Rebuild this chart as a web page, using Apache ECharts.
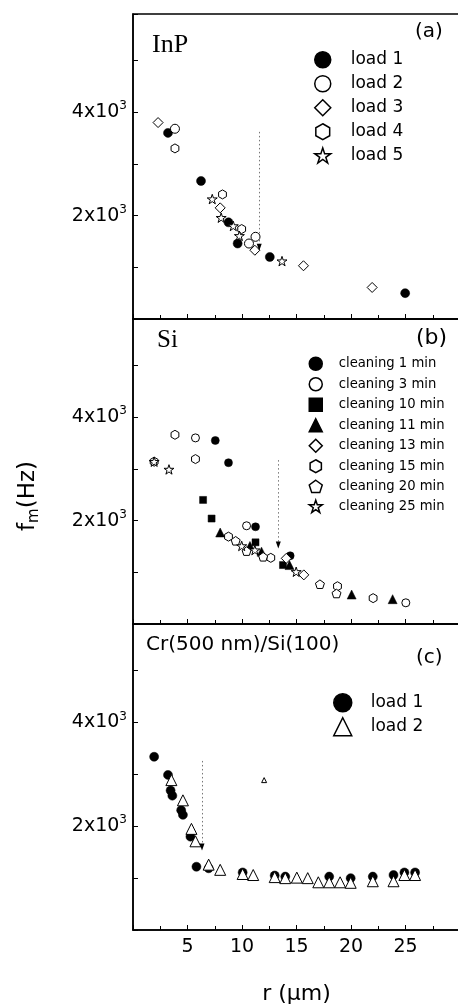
<!DOCTYPE html>
<html><head><meta charset="utf-8">
<script src="https://cdn.jsdelivr.net/npm/echarts/dist/echarts.min.js"></script>
<style>html,body{margin:0;padding:0;background:#fff}#c{width:458px;height:1007px}</style>
</head><body><div id="c"></div>
<script>
// ---------- Panel (a) InP : [r (um), f_m (Hz)] ----------
const inpLoad1 = [[3.21,3600],[6.24,2670],[8.76,1870],[9.6,1460],[12.55,1200],[24.97,500]];
const inpLoad2 = [[3.85,3680],[10.64,1460],[11.24,1590]];
const inpLoad3 = [[2.30,3800],[8.0,2150],[11.18,1330],[15.64,1030],[21.94,610]];
const inpLoad4 = [[3.85,3300],[8.21,2410],[9.97,1740]];
const inpLoad5 = [[7.27,2320],[8.09,1960],[9.2,1800],[9.76,1610],[13.67,1120]];
// ---------- Panel (b) Si ----------
const siClean1  = [[7.55,3550],[8.76,3120],[11.24,1880],[14.42,1320]];
const siClean3  = [[5.73,3600],[10.42,1900],[25.03,410]];
const siClean10 = [[6.43,2400],[7.21,2040],[11.24,1580],[13.76,1140]];
const siClean11 = [[8.0,1770],[10.73,1510],[11.79,1400],[14.36,1140],[20.06,570],[23.82,480]];
const siClean13 = [[14.06,1270],[15.67,950]];
const siClean15 = [[1.94,3140],[3.85,3660],[5.73,3190],[8.76,1690],[12.64,1280],[18.76,730],[22.03,500]];
const siClean20 = [[9.42,1610],[10.42,1410],[11.94,1300],[17.15,770],[18.67,590]];
const siClean25 = [[1.94,3140],[3.30,2990],[9.97,1510],[11.18,1430],[14.97,1010]];
// ---------- Panel (c) Cr(500 nm)/Si(100) ----------
const crLoad1 = [[1.94,3340],[3.21,2990],[3.45,2690],[3.61,2590],[4.42,2310],[4.58,2220],[5.27,1800],[5.82,1220],[6.94,1190],[10.06,1110],[13.0,1050],[13.97,1030],[18.0,1030],[19.97,1000],[22.0,1030],[23.9,1060],[24.9,1110],[25.88,1110]];
const crLoad2 = [[3.52,2890],[4.58,2500],[5.36,1950],[5.73,1710],[6.94,1260],[8.0,1160],[10.06,1080],[11.03,1060],[13.0,1020],[13.97,1000],[15.03,1010],[16.03,1000],[17.0,920],[18.0,920],[19.0,920],[19.97,910],[22.0,940],[23.9,940],[24.9,1060],[25.88,1060]];
const crStray = [[12.03,2890]];
// arrows: [r, top of dotted line, arrow head]
const arrowA = [11.58, 3620, 1390];
const arrowB = [13.33, 3170, 1530];
const arrowC = [6.33, 3260, 1600];
// axis
const yLabels = {2000:'2x10', 4000:'4x10'};
const xTicks = [5,10,15,20,25];

const SANS = '"DejaVu Sans", sans-serif';
const SERIF = '"Liberation Serif", serif';
const HEX = 'path://M0,-1 L0.866,-0.5 L0.866,0.5 L0,1 L-0.866,0.5 L-0.866,-0.5 Z';
const PENT = 'path://M0,-1 L0.951,-0.309 L0.588,0.809 L-0.588,0.809 L-0.951,-0.309 Z';
const STAR = 'path://M0,-1 L0.2245,-0.309 L0.951,-0.309 L0.363,0.118 L0.588,0.809 L0,0.382 L-0.588,0.809 L-0.363,0.118 L-0.951,-0.309 L-0.2245,-0.309 Z';

function sc(name, data, gi, symbol, size, filled){
  return {type:'scatter', name, data, xAxisIndex:gi, yAxisIndex:gi, symbol, symbolSize:size,
    symbolKeepAspect:true, silent:true,
    itemStyle: filled ? {color:'#000', borderColor:'#000', borderWidth:0.5, opacity:1}
                      : {color:'#fff', borderColor:'#000', borderWidth:1, opacity:1},
    emphasis:{disabled:true}};
}
function arrow(a, gi){
  return {type:'scatter', data:[], xAxisIndex:gi, yAxisIndex:gi, silent:true,
    markLine:{silent:true, symbol:['none','none'], animation:false, label:{show:false},
      lineStyle:{type:[1.5,2.5], color:'#777', width:1},
      data:[[{coord:[a[0],a[1]]},{coord:[a[0],a[2]+60]}]]},
    markPoint:{silent:true, animation:false, label:{show:false},
      data:[{coord:[a[0],a[2]], symbol:'triangle', symbolRotate:180, symbolSize:[5,7], itemStyle:{color:'#000', opacity:1}}]}};
}

const grids = [
  {left:133, top:14, width:327, height:305},
  {left:133, top:319, width:327, height:305},
  {left:133, top:624, width:327, height:306}
].map(g => Object.assign(g, {show:true, borderColor:'#000', borderWidth:1.5, backgroundColor:'transparent', containLabel:false, outerBoundsMode:'none'}));

const xAxes = [0,1,2].map(i => ({
  type:'value', gridIndex:i, min:0, max:30, interval:5,
  axisLine:{show:true, lineStyle:{color:'#000', width:1.5}},
  axisTick:{show:true, inside:true, length:5, lineStyle:{color:'#000', width:1}},
  minorTick:{show:true, splitNumber:2, length:4, lineStyle:{color:'#000', width:1}},
  splitLine:{show:false},
  axisLabel:{show:i===2, margin:8, fontSize:19, fontFamily:SANS, color:'#000',
    formatter: v => xTicks.includes(v) ? String(v) : ''},
  name: i===2 ? 'r (\u03bcm)' : '', nameLocation:'middle', nameGap:53,
  nameTextStyle:{fontSize:22, fontFamily:SANS, color:'#000'}
}));
const yAxes = [0,1,2].map(i => ({
  type:'value', gridIndex:i, min:0, max:5900, interval:1000,
  axisLine:{show:true, lineStyle:{color:'#000', width:1.5}},
  axisTick:{show:true, inside:true, length:5, lineStyle:{color:'#000', width:1}},
  splitLine:{show:false},
  axisLabel:{show:true, margin:6, color:'#000',
    formatter: v => yLabels[v] ? '{b|'+yLabels[v]+'}{s|3}' : '',
    rich:{b:{fontSize:19, fontFamily:SANS, color:'#000', lineHeight:24, verticalAlign:'middle'},
          s:{fontSize:12, fontFamily:SANS, color:'#000', lineHeight:24, verticalAlign:'top'}}}
}));

const legBase = {orient:'vertical', selectedMode:false, padding:0, itemStyle:{borderWidth:1.5}};
const legends = [
  Object.assign({}, legBase, {left:314, top:51, itemWidth:16, itemHeight:16, itemGap:6.5,
    textStyle:{fontSize:17, fontFamily:SANS, color:'#000', padding:[0,0,0,15]},
    data:['load 1','load 2','load 3','load 4','load 5']}),
  Object.assign({}, legBase, {left:308.5, top:356.5, itemWidth:13, itemHeight:13, itemGap:6,
    textStyle:{fontSize:13.2, fontFamily:SANS, color:'#000', padding:[0,0,0,11.5]},
    data:['cleaning 1 min','cleaning 3 min','cleaning 10 min','cleaning 11 min','cleaning 13 min','cleaning 15 min','cleaning 20 min','cleaning 25 min']}),
  Object.assign({}, legBase, {left:333, top:693, itemWidth:18, itemHeight:18, itemGap:4.5,
    textStyle:{fontSize:17, fontFamily:SANS, color:'#000', padding:[0,0,0,14]},
    data:['load 1 ','load 2 ']})
];

const series = [
  sc('load 1', inpLoad1, 0, 'circle', 9, true),
  sc('load 2', inpLoad2, 0, 'circle', 9, false),
  sc('load 3', inpLoad3, 0, 'diamond', 10, false),
  sc('load 4', inpLoad4, 0, HEX, 9, false),
  sc('load 5', inpLoad5, 0, STAR, 10, false),
  arrow(arrowA, 0),
  sc('cleaning 1 min', siClean1, 1, 'circle', 8, true),
  sc('cleaning 3 min', siClean3, 1, 'circle', 8, false),
  sc('cleaning 10 min', siClean10, 1, 'rect', 7, true),
  sc('cleaning 11 min', siClean11, 1, 'triangle', 9, true),
  sc('cleaning 13 min', siClean13, 1, 'diamond', 10, false),
  sc('cleaning 15 min', siClean15, 1, HEX, 9, false),
  sc('cleaning 20 min', siClean20, 1, PENT, 9, false),
  sc('cleaning 25 min', siClean25, 1, STAR, 10, false),
  arrow(arrowB, 1),
  sc('load 1 ', crLoad1, 2, 'circle', 9, true),
  sc('load 2 ', crLoad2, 2, 'triangle', 11, false),
  sc('stray', crStray, 2, 'triangle', 5, false),
  arrow(arrowC, 2)
];

function txt(x, y, text, size, family){
  return {type:'text', x, y, silent:true, style:{text, fontSize:size, fontFamily:family, fill:'#000', align:'left', verticalAlign:'middle'}};
}
const graphics = [
  txt(152, 45, 'InP', 26, SERIF),
  txt(415, 32, '(a)', 20, SANS),
  txt(157, 340, 'Si', 25, SERIF),
  txt(416, 338, '(b)', 22, SANS),
  txt(146, 645, 'Cr(500 nm)/Si(100)', 20, SANS),
  txt(416, 658, '(c)', 20, SANS),
  {type:'text', x:28, y:496, rotation:Math.PI/2, silent:true,
    style:{text:'{f|f}{m|m}{h|(Hz)}', align:'center', verticalAlign:'middle',
      rich:{f:{fontSize:23, fontFamily:SANS, fill:'#000', lineHeight:28, verticalAlign:'middle'},
            m:{fontSize:15, fontFamily:SANS, fill:'#000', lineHeight:28, verticalAlign:'bottom'},
            h:{fontSize:23, fontFamily:SANS, fill:'#000', lineHeight:28, verticalAlign:'middle'}}}}
];

const chart = echarts.init(document.getElementById('c'), null, {renderer:'canvas'});
chart.setOption({
  animation:false, backgroundColor:'#fff',
  grid:grids, xAxis:xAxes, yAxis:yAxes, legend:legends, series, graphic:graphics
});
</script></body></html>
